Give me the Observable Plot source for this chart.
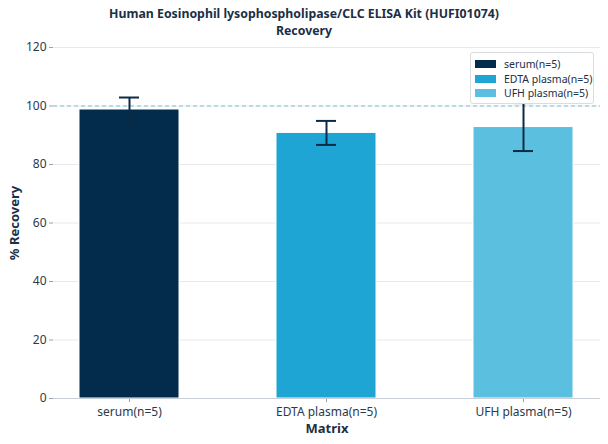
<!DOCTYPE html>
<html>
<head>
<meta charset="utf-8">
<script src="https://cdn.jsdelivr.net/npm/d3@7"></script>
<script src="https://cdn.jsdelivr.net/npm/@observablehq/plot@0.6"></script>
<style>
  html, body { margin: 0; padding: 0; background: #fff; }
  body { width: 608px; height: 444px; overflow: hidden; font-family: "Noto Sans", "Open Sans", sans-serif; }
  #wrap { position: relative; width: 608px; height: 444px; }
  #title { position: absolute; left: 0; top: 5px; width: 608px; text-align: center; font-weight: bold; font-size: 12.3px; line-height: 17px; color: #1b2f45; z-index: 2; }
  #chart { position: absolute; left: 0; top: 32px; }
  #legend { position: absolute; left: 470px; top: 52px; width: 124px; height: 52px; background: #fff; border: 1px solid #d8dde2; border-radius: 3px; font-size: 10.5px; color: #1b2f45; box-sizing: border-box; padding: 4px 0 0 4px; white-space: nowrap; }
  #legend .row { display: flex; align-items: center; height: 14.5px; }
  #legend .sw { width: 21px; height: 8px; margin-right: 8px; flex: none; }
</style>
</head>
<body>
<div id="wrap">
  <div id="title">Human Eosinophil lysophospholipase/CLC ELISA Kit (HUFI01074)<br>Recovery</div>
  <div id="chart"></div>
  <div id="legend"></div>
</div>
<script>
const categories = ["serum(n=5)", "EDTA plasma(n=5)", "UFH plasma(n=5)"];
const recovery = [98.8, 90.8, 92.8];
const errors = [4.1, 4.1, 8.2];
const colors = ["#032b4b", "#1fa5d3", "#5bbfe0"];
const yTicks = [0, 20, 40, 60, 80, 100, 120];
const reference = 100;

const data = categories.map((c, i) => ({ cat: c, value: recovery[i], err: errors[i], color: colors[i] }));

const plot = Plot.plot({
  width: 608,
  height: 412,
  marginTop: 15,
  marginBottom: 46,
  marginLeft: 53,
  marginRight: 8,
  style: { fontFamily: "Noto Sans, Open Sans, sans-serif", fontSize: "12px", color: "#2b3a4a", background: "transparent" },
  x: { domain: categories, paddingInner: 0.49, paddingOuter: 0.13, label: null, tickSize: 4 },
  y: { domain: [0, 120], ticks: yTicks, label: null, tickSize: 4 },
  marks: [
    Plot.gridY(yTicks, { stroke: "#e6eaee", strokeOpacity: 1, strokeWidth: 1.2 }),
    Plot.barY(data, { x: "cat", y: "value", fill: "color", stroke: "#fff", strokeWidth: 1 }),
    Plot.ruleY([reference], { stroke: "#7fc1d1", strokeDasharray: "4,3", strokeWidth: 1 }),
    Plot.ruleX(data, { x: "cat", y1: d => d.value - d.err, y2: d => d.value + d.err, stroke: "#0d2a45", strokeWidth: 2 }),
    Plot.tickY(data, { x: "cat", y: d => d.value + d.err, stroke: "#0d2a45", strokeWidth: 2, insetLeft: 40, insetRight: 40 }),
    Plot.tickY(data, { x: "cat", y: d => d.value - d.err, stroke: "#0d2a45", strokeWidth: 2, insetLeft: 40, insetRight: 40 }),
    Plot.axisX({ tickSize: 4, stroke: "#9aa3ad", fontSize: 12, fill: "#2b3a4a", tickPadding: 5 }),
    Plot.axisY({ ticks: yTicks, tickSize: 4, stroke: "#9aa3ad", fontSize: 12, fill: "#2b3a4a", tickPadding: 3 }),
    Plot.ruleX([0], { frameAnchor: "left", stroke: "#c8cfd6" }),
    Plot.ruleY([0], { stroke: "#c8cfd6" }),
    Plot.text(["Matrix"], { frameAnchor: "bottom", dy: 34, fontWeight: "bold", fontSize: 13, fill: "#1b2f45" }),
    Plot.text(["% Recovery"], { frameAnchor: "left", dx: -39, rotate: -90, textAnchor: "middle", fontWeight: "bold", fontSize: 13, fill: "#1b2f45" })
  ]
});
document.getElementById("chart").appendChild(plot);

const legend = document.getElementById("legend");
categories.forEach((c, i) => {
  const row = document.createElement("div");
  row.className = "row";
  const sw = document.createElement("div");
  sw.className = "sw";
  sw.style.background = colors[i];
  const t = document.createElement("span");
  t.textContent = c;
  row.appendChild(sw);
  row.appendChild(t);
  legend.appendChild(row);
});
</script>
</body>
</html>
